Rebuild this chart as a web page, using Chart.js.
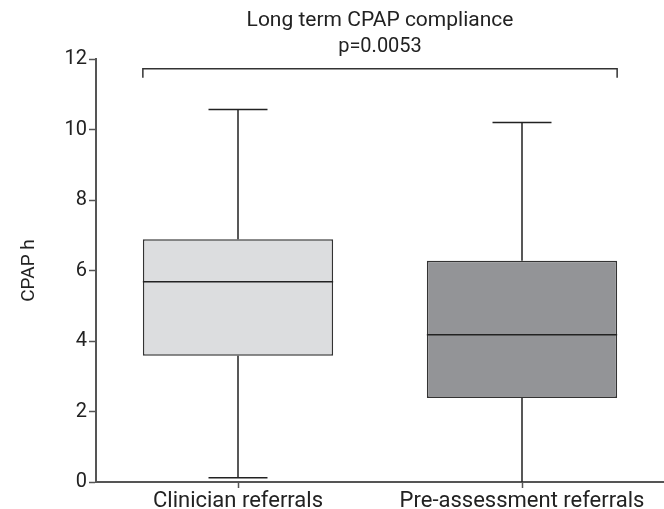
<!DOCTYPE html>
<html>
<head>
<meta charset="utf-8">
<script src="https://cdn.jsdelivr.net/npm/chart.js@4/dist/chart.umd.min.js"></script>
<style>
  html, body { margin: 0; padding: 0; background: #fff; }
  #wrap { width: 664px; height: 509px; }
</style>
</head>
<body>
<div id="wrap"><canvas id="box-chart"></canvas></div>
<script>
// box plot values
var categories = ["Clinician referrals", "Pre-assessment referrals"];
var minVals = [0.12, 0];
var q1Vals = [3.58, 2.38];
var medianVals = [5.68, 4.18];
var q3Vals = [6.89, 6.28];
var maxVals = [10.57, 10.2];
var yTicks = [0, 2, 4, 6, 8, 10, 12];
var titleText = "Long term CPAP compliance";
var pLabel = "p=0.0053";
var bracketLevel = 11.72;

var fillColors = ['#dcdddf', '#939497'];
var font = "Roboto";

var boxPlot = {
    id: 'boxPlot',
    afterDatasetsDraw: function (chart) {
        var c = chart.ctx;
        var y = chart.scales.y;
        var bars = chart.getDatasetMeta(0).data;
        c.save();
        c.strokeStyle = '#222';
        c.lineWidth = 1.5;
        bars.forEach(function (bar, i) {
            var cx = bar.x;
            var half = bar.width / 2;
            var cap = bar.width * 0.155;
            c.beginPath();
            // whiskers
            c.moveTo(cx, y.getPixelForValue(q3Vals[i]));
            c.lineTo(cx, y.getPixelForValue(maxVals[i]));
            c.moveTo(cx, y.getPixelForValue(q1Vals[i]));
            c.lineTo(cx, y.getPixelForValue(minVals[i]));
            // caps
            c.moveTo(cx - cap, y.getPixelForValue(maxVals[i]));
            c.lineTo(cx + cap, y.getPixelForValue(maxVals[i]));
            if (minVals[i] > 0) {
                c.moveTo(cx - cap, y.getPixelForValue(minVals[i]));
                c.lineTo(cx + cap, y.getPixelForValue(minVals[i]));
            }
            // median
            c.moveTo(cx - half, y.getPixelForValue(medianVals[i]));
            c.lineTo(cx + half, y.getPixelForValue(medianVals[i]));
            c.stroke();
        });
        // significance bracket
        var x0 = bars[0].x - bars[0].width / 2;
        var x1 = bars[1].x + bars[1].width / 2;
        var by = y.getPixelForValue(bracketLevel);
        c.strokeStyle = '#333';
        c.beginPath();
        c.moveTo(x0, by + 9);
        c.lineTo(x0, by);
        c.lineTo(x1, by);
        c.lineTo(x1, by + 9);
        c.stroke();
        // title + p value, centred over the bracket
        var mid = (x0 + x1) / 2;
        c.fillStyle = '#222';
        c.textAlign = 'center';
        c.textBaseline = 'middle';
        c.font = '21px ' + font;
        c.fillText(titleText, mid, 21);
        c.font = '20px ' + font;
        c.fillText(pLabel, mid, 47);
        c.restore();
    }
};

var ctx = document.getElementById("box-chart");

var chartGraph = new Chart(ctx, {
    type: 'bar',
    data: {
        labels: categories,
        datasets: [{
            label: "CPAP h",
            data: q1Vals.map(function (v, i) { return [v, q3Vals[i]]; }),
            backgroundColor: fillColors,
            borderColor: '#333',
            borderWidth: 1.5,
            borderSkipped: false,
            barPercentage: 1,
            categoryPercentage: 0.67
        }]
    },
    options: {
        responsive: true,
        maintainAspectRatio: false,
        animation: false,
        layout: { padding: { left: 0, right: 0, top: 59, bottom: 0 } },
        plugins: {
            legend: { display: false },
            tooltip: { enabled: false },
            title: { display: false }
        },
        scales: {
            x: {
                grid: { drawOnChartArea: false, offset: false, tickLength: 6, color: '#555', tickWidth: 1.5 },
                border: { color: '#555', width: 2 },
                ticks: { color: '#222', padding: 0, font: { family: font, size: 22 } },
                afterFit: function (s) { s.height = 27; }
            },
            y: {
                min: 0,
                max: 12,
                afterBuildTicks: function (s) { s.ticks = yTicks.map(function (v) { return { value: v }; }); },
                grid: { drawOnChartArea: false, tickLength: 7, color: '#555', tickWidth: 1.5 },
                border: { color: '#555', width: 2 },
                ticks: { color: '#222', padding: 2, font: { family: font, size: 20 } },
                title: {
                    display: true,
                    text: "CPAP h",
                    color: '#222',
                    font: { family: font, size: 19 },
                    padding: { top: 18, bottom: 0 }
                },
                afterFit: function (s) { s.width = 96; }
            }
        }
    },
    plugins: [boxPlot]
});
</script>
</body>
</html>
